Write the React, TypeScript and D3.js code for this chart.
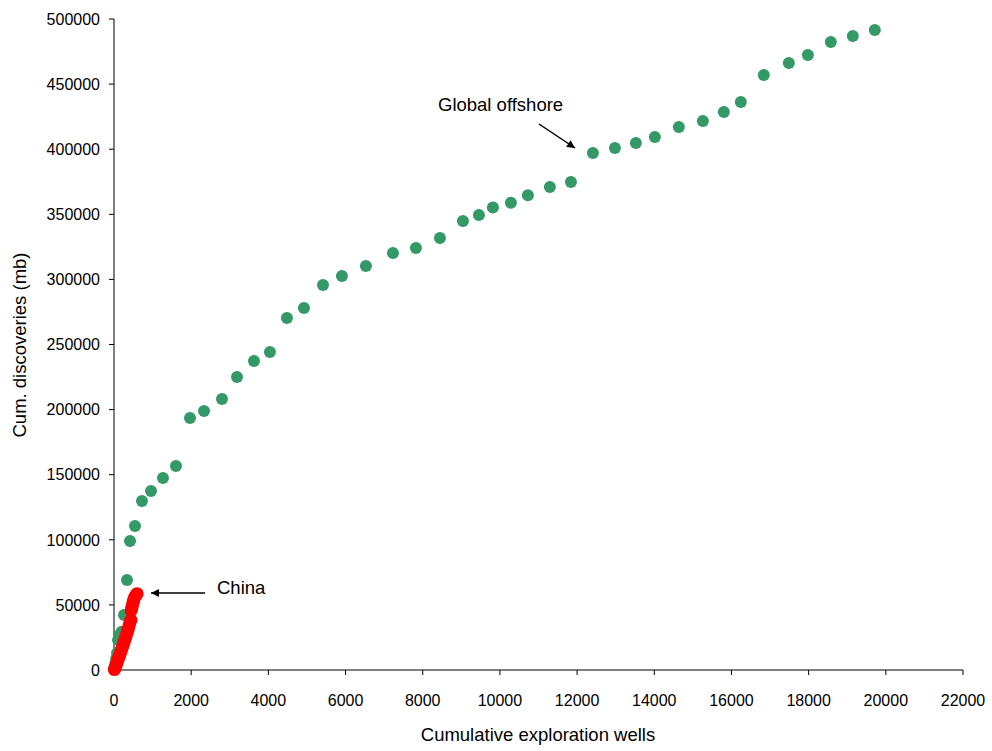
import React from "react";
import * as d3 from "d3";

const offshoreWells = [5, 20, 40, 60, 80, 104, 130, 160, 199, 259, 337, 415, 544, 725, 959, 1269, 1606, 1969, 2332, 2798, 3187, 3627, 4041, 4482, 4922, 5415, 5907, 6528, 7228, 7824, 8446, 9042, 9456, 9819, 10285, 10725, 11295, 11840, 12410, 12980, 13524, 14015, 14637, 15259, 15803, 16243, 16839, 17487, 17980, 18575, 19145, 19715];
const offshoreDisc = [500, 2500, 5500, 9000, 13000, 23000, 25500, 27500, 29400, 42200, 69100, 99100, 110600, 129800, 137500, 147500, 156700, 193600, 198900, 208100, 225000, 237300, 244200, 270300, 278000, 295700, 302600, 310300, 320300, 324100, 331800, 344800, 349500, 355200, 358900, 364700, 370900, 374800, 397100, 400900, 404800, 409400, 417000, 421700, 428600, 436300, 457000, 466200, 472400, 482300, 486900, 491600];

const chinaWells = [10, 25, 40, 55, 70, 85, 100, 115, 130, 145, 160, 175, 190, 205, 220, 240, 260, 280, 300, 320, 340, 360, 380, 400, 420, 440, 445, 460, 475, 490, 505, 520, 540, 560, 580, 600];
const chinaDisc = [300, 1200, 2500, 3800, 5000, 6300, 7600, 8800, 10000, 11300, 12600, 13900, 15200, 16500, 17800, 19500, 21300, 23000, 24800, 26700, 28600, 30600, 32800, 35000, 37000, 38400, 45500, 47500, 49500, 51300, 53000, 54500, 56000, 57200, 58000, 58600];

const xTicks = [0, 2000, 4000, 6000, 8000, 10000, 12000, 14000, 16000, 18000, 20000, 22000];
const yTicks = [0, 50000, 100000, 150000, 200000, 250000, 300000, 350000, 400000, 450000, 500000];

const xTitle = "Cumulative exploration wells";
const yTitle = "Cum. discoveries (mb)";
const labelOffshore = "Global offshore";
const labelChina = "China";

const W = 992;
const H = 751;
const FONT = "'Liberation Sans', Arial, sans-serif";

export default function App() {
  const x = d3.scaleLinear().domain([0, 22000]).range([114, 963]);
  const y = d3.scaleLinear().domain([0, 500000]).range([670, 19]);
  const green = "#339966";
  const red = "#ff0000";

  return (
    <svg width={W} height={H} style={{ position: "absolute", left: 0, top: 0, background: "#fff" }} fontFamily={FONT}>
      <defs>
        <marker id="arr" viewBox="0 0 10 10" refX="10" refY="5" markerWidth="10" markerHeight="8" markerUnits="userSpaceOnUse" orient="auto">
          <path d="M0,0 L10,5 L0,10 z" fill="#000" />
        </marker>
      </defs>
      {/* axes */}
      <line x1={x(0)} x2={x(22000)} y1={y(0)} y2={y(0)} stroke="#000" strokeWidth={1} />
      <line x1={x(0)} x2={x(0)} y1={y(0)} y2={y(500000)} stroke="#000" strokeWidth={1} />
      {xTicks.map((t) => (
        <g key={"x" + t}>
          <line x1={x(t)} x2={x(t)} y1={y(0)} y2={y(0) + 5} stroke="#000" />
          <text x={x(t)} y={706} fontSize={16} textAnchor="middle" fill="#000">{t}</text>
        </g>
      ))}
      {yTicks.map((t) => (
        <g key={"y" + t}>
          <line x1={x(0) - 5} x2={x(0)} y1={y(t)} y2={y(t)} stroke="#000" />
          <text x={100} y={y(t)} dy="0.36em" fontSize={16} textAnchor="end" fill="#000">{t}</text>
        </g>
      ))}
      {/* series */}
      {offshoreWells.map((w, i) => (
        <circle key={"g" + i} cx={x(w)} cy={y(offshoreDisc[i])} r={6} fill={green} />
      ))}
      {chinaWells.map((w, i) => (
        <circle key={"r" + i} cx={x(w)} cy={y(chinaDisc[i])} r={6.5} fill={red} />
      ))}
      {/* annotations */}
      <text x={438} y={111} fontSize={18.5} fill="#000">{labelOffshore}</text>
      <line x1={539} y1={124} x2={575} y2={148} stroke="#000" strokeWidth={1.5} markerEnd="url(#arr)" />
      <text x={217} y={594} fontSize={18.5} fill="#000">{labelChina}</text>
      <line x1={205} y1={593} x2={151} y2={593} stroke="#000" strokeWidth={1.5} markerEnd="url(#arr)" />
      {/* titles */}
      <text x={538} y={741} fontSize={18.5} textAnchor="middle" fill="#000">{xTitle}</text>
      <text transform="translate(26,345) rotate(-90)" fontSize={18.5} textAnchor="middle" fill="#000">{yTitle}</text>
    </svg>
  );
}
